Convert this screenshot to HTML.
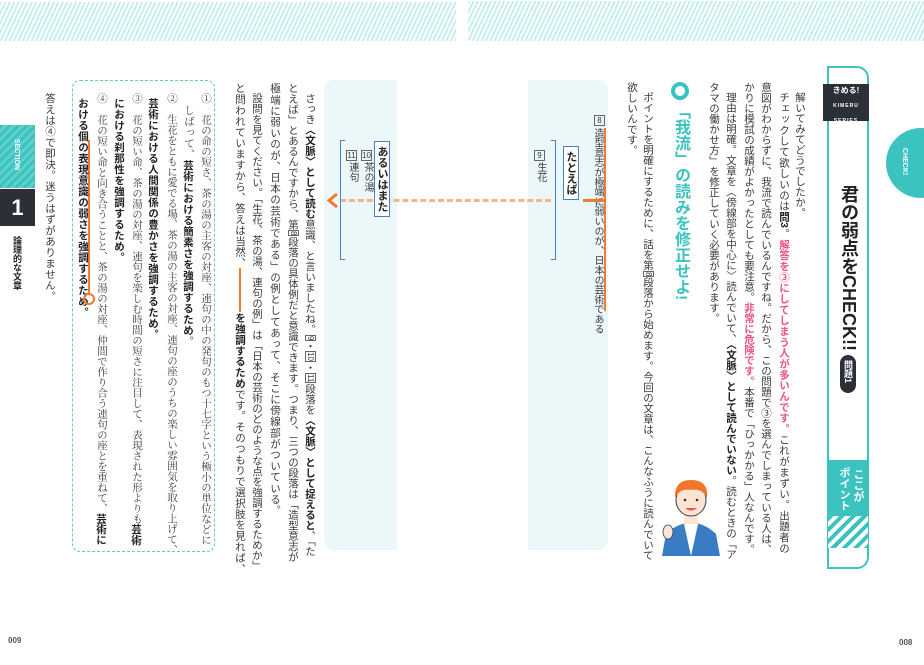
<!DOCTYPE html>
<html><head><meta charset="utf-8"><style>
html,body{margin:0;padding:0;}
body{width:924px;height:665px;position:relative;overflow:hidden;background:#fff;font-family:"Liberation Sans","Noto Sans CJK JP",sans-serif;color:#3a3a3a;}
.c{position:absolute;writing-mode:vertical-rl;font-size:10.5px;line-height:12px;width:12px;white-space:nowrap;}
.j{text-align:justify;text-align-last:justify;}
.b{font-weight:bold;color:#222;}
.p{color:#f0508a;font-weight:bold;}
.m{font-family:"Liberation Serif","Noto Serif CJK JP",serif;}
.bx{display:inline-block;border:1px solid #666;font-size:8px;line-height:9px;width:9px;text-align:center;}
.stripe{position:absolute;background:repeating-linear-gradient(115deg,#c6eeee 0 2px,#fff 2px 4px);}
</style></head><body>
<div class="stripe" style="left:0;top:2px;width:456px;height:39px"></div>
<div class="stripe" style="left:468px;top:1px;width:456px;height:40px"></div>

<!-- right sidebar box -->
<div style="position:absolute;left:827px;top:66px;width:42px;height:503px;border:2px solid #3cc3c0;border-left:2px solid #3cc3c0;border-radius:0 12px 12px 0;border-left-color:#3cc3c0;box-sizing:border-box"></div>
<div style="position:absolute;left:823px;top:84px;width:46px;height:37px;background:#2b2f38;color:#fff;font-size:8px;font-weight:bold;text-align:center;line-height:14px">きめる!<br><span style="font-size:5px;letter-spacing:1px">KIMERU SERIES</span></div>
<div class="c b" style="left:838px;top:185px;width:22px;font-size:18px;line-height:22px;color:#222">君の弱点をCHECK!!</div>
<div style="position:absolute;left:840px;top:355px;width:16px;height:38px;border-radius:8px;background:#2b2f38"></div>
<div class="c" style="left:843px;top:360px;width:10px;font-size:9px;color:#fff;font-weight:bold;line-height:10px">問題1</div>
<div style="position:absolute;left:827px;top:460px;width:42px;height:56px;background:#3cc3c0"></div>
<div class="c" style="left:852px;top:469px;color:#fff;font-weight:bold;font-size:11px">ここが</div>
<div class="c" style="left:838px;top:467px;color:#fff;font-weight:bold;font-size:11px">ポイント</div>
<div style="position:absolute;left:828px;top:516px;width:40px;height:32px;background:repeating-linear-gradient(135deg,#3cc3c0 0 4px,#fff 4px 8px)"></div>
<div style="position:absolute;left:886px;top:128px;width:70px;height:70px;border-radius:50%;background:#3cc3c0"></div>
<div class="c" style="left:900px;top:148px;width:10px;font-size:7px;color:#fff;font-weight:bold">CHECK!</div>

<!-- right page text -->
<div class="c j" style="left:794px;top:82px;height:126px;padding-top:10px;text-align:left;text-align-last:left">解いてみてどうでしたか。</div>
<div class="c j" style="left:778px;top:92px;height:461px">チェックして欲しいのは<span class="b">問3</span>。<span class="p">解答を③にしてしまう人が多いんです。</span>これがまずい。出題者の</div>
<div class="c j" style="left:760px;top:82px;height:471px">意図がわからずに、我流で読んでいるんですね。だから、この問題で③を選んでしまっている人は、</div>
<div class="c j" style="left:743px;top:82px;height:471px">かりに模試の成績がよかったとしても要注意。<span class="p">非常に危険です。</span>本番で「ひっかかる」人なんです。</div>
<div class="c j" style="left:725px;top:92px;height:461px">理由は明確。文章を〈傍線部を中心に〉読んでいて、<span class="b">〈文脈〉として読んでいない</span>。読むときの「ア</div>
<div class="c" style="left:708px;top:82px">タマの働かせ方」を修正していく必要があります。</div>
<div style="position:absolute;left:671px;top:82px;width:10px;height:10px;border:4px solid #3cc3c0;border-radius:50%"></div>
<div class="c" style="left:671px;top:103px;width:18px;font-size:16px;line-height:18px;color:#3cc3c0;font-weight:bold">「我流」の読みを修正せよ!</div>
<div class="c j" style="left:642px;top:92px;height:461px">ポイントを明確にするために、話を第<span class="bx">8</span>段落から始めます。今回の文章は、こんなふうに読んでいて</div>
<div class="c" style="left:626px;top:82px">欲しいんです。</div>

<!-- character -->
<svg style="position:absolute;left:660px;top:472px" width="62" height="84" viewBox="0 0 62 84">
<path d="M2 84 L6 62 Q16 52 31 50 Q46 52 56 62 L60 84Z" fill="#3a7cc4"/>
<path d="M24 52 L31 84 L38 52Z" fill="#fff"/>
<rect x="24" y="40" width="14" height="12" fill="#fde3d2"/>
<ellipse cx="31" cy="28" rx="15" ry="16" fill="#fde3d2" stroke="#345" stroke-width="1"/>
<path d="M15 26 Q14 8 31 8 Q49 8 47 26 Q42 16 31 18 Q20 16 15 26Z" fill="#f0762e"/>
<path d="M25 36 Q31 41 37 36Z" fill="#e8534a"/>
<circle cx="25" cy="28" r="1.3" fill="#333"/><circle cx="37" cy="28" r="1.3" fill="#333"/>
<ellipse cx="8" cy="60" rx="5" ry="7" fill="#fde3d2" stroke="#345" stroke-width=".8"/>
</svg>

<!-- diagram panels -->
<div style="position:absolute;left:528px;top:80px;width:80px;height:470px;background:#ebf7f8;border-radius:0 10px 10px 0"></div>
<div style="position:absolute;left:324px;top:80px;width:73px;height:470px;background:#ebf7f8;border-radius:10px 0 0 10px"></div>
<div style="position:absolute;left:594px;top:110px;"><span class="bx">8</span></div>
<div style="position:absolute;left:604px;top:128px;width:2px;height:183px;background:#f07a30"></div>
<div class="c" style="left:592px;top:128px;width:11px;font-size:10px;height:183px;letter-spacing:-.2px">造型意志が極端に弱いのが、日本の芸術である</div>
<div class="c b" style="left:563px;top:146px;width:14px;height:48px;border:1.5px solid #4a7fc0;background:#fff;font-size:11px;line-height:14px;text-align:center;padding:2px 0">たとえば</div>
<div style="position:absolute;left:583px;top:199px;width:21px;height:3px;background:#f07a30"></div>
<div style="position:absolute;left:551px;top:140px;width:4px;height:118px;border:1.5px solid #4a7fc0;border-left:none"></div>
<div style="position:absolute;left:534px;top:145px;"><span class="bx">9</span></div>
<div class="c" style="left:534px;top:162px;font-size:10px">生花</div>
<div style="position:absolute;left:340px;top:199px;width:211px;height:0;border-top:3px dashed #f6b48a"></div>
<svg style="position:absolute;left:326px;top:192px" width="14" height="17"><path d="M11 2 L3 8.5 L11 15" fill="none" stroke="#f07a30" stroke-width="3"/></svg>
<div class="c b" style="left:374px;top:141px;width:14px;height:70px;border:1.5px solid #4a7fc0;background:#fff;font-size:11px;line-height:14px;text-align:center;padding:2px 0">あるいはまた</div>
<div style="position:absolute;left:361px;top:145px;"><span class="bx">10</span></div>
<div class="c" style="left:361px;top:162px;font-size:10px">茶の湯</div>
<div style="position:absolute;left:346px;top:145px;"><span class="bx">11</span></div>
<div class="c" style="left:346px;top:162px;font-size:10px">連句</div>
<div style="position:absolute;left:340px;top:140px;width:4px;height:118px;border:1.5px solid #4a7fc0;border-right:none"></div>

<!-- middle text -->
<div class="c j" style="left:304px;top:93px;height:457px"><span style="letter-spacing:0">さっき</span><span class="b">〈文脈〉として読む</span>意識、と言いましたね。<span class="bx">9</span>・<span class="bx">10</span>・<span class="bx">11</span>段落を<span class="b">〈文脈〉として捉えると</span>、「た</div>
<div class="c j" style="left:287px;top:83px;height:467px">とえば」とあるんですから、第<span class="bx">8</span>段落の具体例だと意識できます。つまり、三つの段落は「造型意志が</div>
<div class="c" style="left:269px;top:83px;letter-spacing:.6px">極端に弱いのが、日本の芸術である」の例としてあって、そこに傍線部がついている。</div>
<div class="c j" style="left:251px;top:93px;height:457px">設問を見てください。「生花、茶の湯、連句の例」は「日本の芸術のどのような点を強調するためか」</div>
<div class="c" style="left:234px;top:83px;letter-spacing:.4px">と問われていますから、答えは当然、<span style="display:inline-block;width:2px;height:44px;background:#f07a30;margin:0 4px"></span><span class="b">を強調するため</span>です。そのつもりで選択肢を見れば、</div>

<!-- choices -->
<div style="position:absolute;left:72px;top:80px;width:143px;height:472px;border:1.5px dashed #58cccc;border-radius:8px;box-sizing:border-box"></div>
<div class="c j m" style="left:199px;top:93px;height:452px">①　花の命の短さ、茶の湯の主客の対座、連句の中の発句のもつ十七字という極小の単位などに</div>
<div class="c" style="left:182px;top:105px;letter-spacing:.5px"><span class="m">しばって、</span><span class="b">芸術における簡素さを強調するため</span>。</div>
<div class="c j m" style="left:165px;top:93px;height:452px">②　生花をともに愛でる場、茶の湯の主客の対座、連句の座のうちの楽しい雰囲気を取り上げて、</div>
<div class="c b" style="left:147px;top:98px;letter-spacing:.5px">芸術における人間関係の豊かさを強調するため。</div>
<div class="c j m" style="left:130px;top:93px;height:452px">③　花の短い命、茶の湯の対座、連句を楽しむ時間の短さに注目して、表現された形よりも<span class="b" style="font-family:'Liberation Sans','Noto Sans CJK JP',sans-serif">芸術</span></div>
<div class="c b" style="left:113px;top:98px;letter-spacing:.5px">における刹那性を強調するため。</div>
<div class="c j m" style="left:95px;top:93px;height:452px">④　花の短い命と向き合うことと、茶の湯の対座、仲間で作り合う連句の座とを重ねて、<span class="b" style="font-family:'Liberation Sans','Noto Sans CJK JP',sans-serif">芸術に</span></div>
<div style="position:absolute;left:88px;top:140px;width:2px;height:155px;background:#f07a30"></div>
<div class="c b" style="left:77px;top:98px;letter-spacing:.5px">おける個の表現意識の弱さを強調するため。</div>
<div style="position:absolute;left:83px;top:293px;width:8px;height:8px;border:2px solid #f07a30;border-radius:50%"></div>
<div class="c" style="left:44px;top:93px;letter-spacing:.5px">答えは④で即決。迷うはずがありません。</div>

<!-- left tab -->
<div style="position:absolute;left:0;top:125px;width:35px;height:63px;background:repeating-linear-gradient(135deg,#3cc3c0 0 3px,#5fd0cc 3px 6px)"></div>
<div class="c" style="left:13px;top:139px;width:9px;font-size:7px;color:#fff;font-weight:bold">SECTION</div>
<div style="position:absolute;left:0;top:189px;width:35px;height:37px;background:#2b2f38;color:#fff;font-size:22px;font-weight:bold;text-align:center;line-height:37px">1</div>
<div class="c b" style="left:12px;top:236px;font-size:9px;line-height:10px;width:10px">論理的な文章</div>

<div style="position:absolute;left:8px;top:636px;font-size:8px;font-weight:bold;color:#555">009</div>
<div style="position:absolute;left:899px;top:638px;font-size:8px;font-weight:bold;color:#555">008</div>
</body></html>
